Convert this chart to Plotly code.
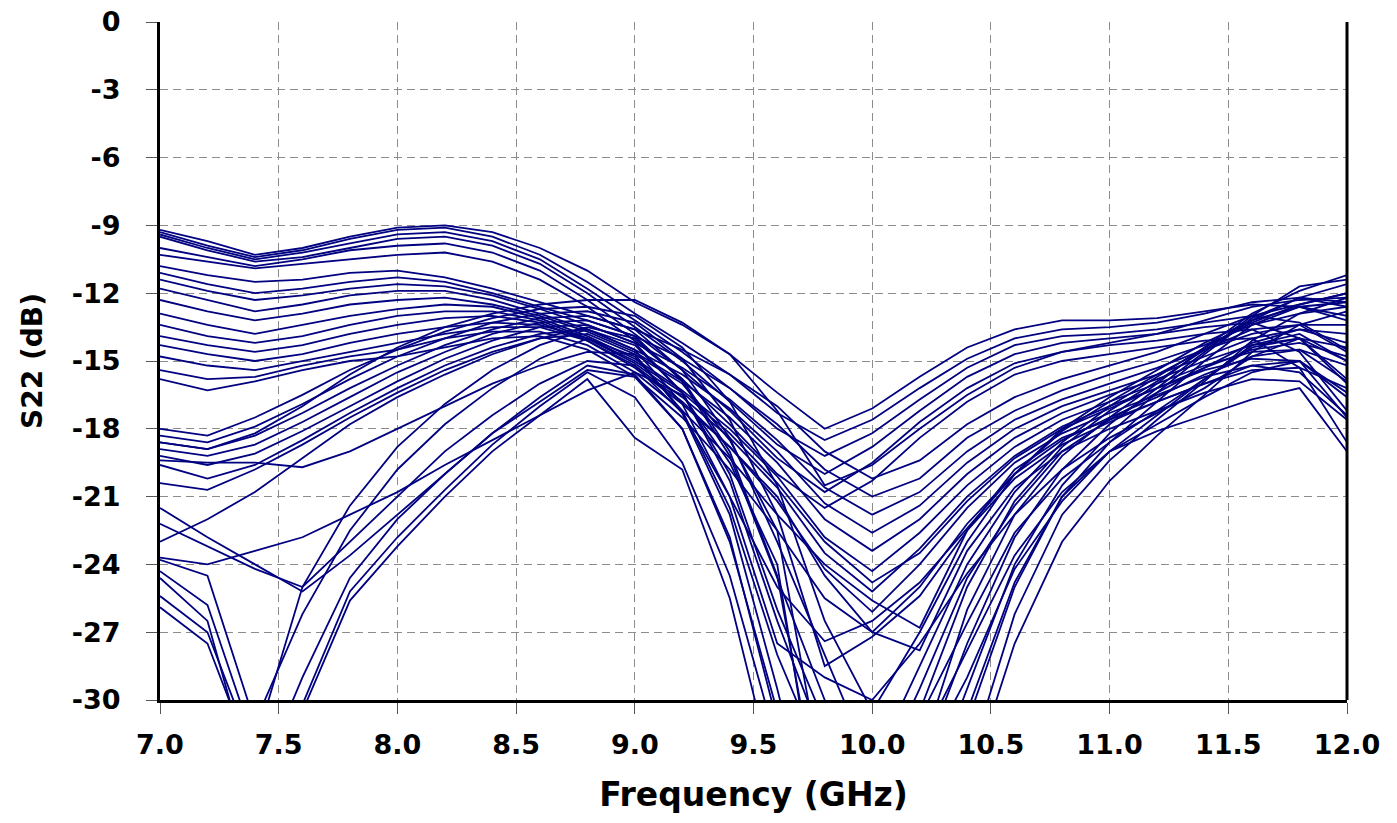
import plotly.graph_objects as go

freq = [7.0, 7.2, 7.4, 7.6, 7.8, 8.0, 8.2, 8.4, 8.6, 8.8, 9.0, 9.2, 9.4, 9.6,
        9.8, 10.0, 10.2, 10.4, 10.6, 10.8, 11.0, 11.2, 11.4, 11.6, 11.8, 12.0]

x_tick_vals = [7.0, 7.5, 8.0, 8.5, 9.0, 9.5, 10.0, 10.5, 11.0, 11.5, 12.0]
x_tick_text = ["7.0", "7.5", "8.0", "8.5", "9.0", "9.5", "10.0", "10.5", "11.0", "11.5", "12.0"]
y_tick_vals = [0, -3, -6, -9, -12, -15, -18, -21, -24, -27, -30]
y_tick_text = ["0", "-3", "-6", "-9", "-12", "-15", "-18", "-21", "-24", "-27", "-30"]

# top family
a1 = [-9.2, -9.7, -10.3, -10.0, -9.5, -9.1, -9.0, -9.3, -10.0, -11.0, -12.4, -13.4, -14.7, -16.4, -18.0, -17.1, -15.7, -14.4, -13.6, -13.2, -13.2, -13.1, -12.8, -12.5, -12.6, -13.0]
a2 = [-9.3, -9.9, -10.4, -10.1, -9.6, -9.2, -9.1, -9.5, -10.3, -11.5, -12.9, -14.2, -15.6, -17.3, -18.5, -17.6, -16.2, -14.9, -14.0, -13.6, -13.5, -13.3, -12.9, -12.4, -12.2, -12.4]
a3 = [-9.4, -10.0, -10.5, -10.2, -9.8, -9.4, -9.3, -9.7, -10.5, -11.8, -13.2, -14.6, -16.2, -18.0, -19.2, -18.2, -16.7, -15.3, -14.3, -13.9, -13.8, -13.6, -13.3, -13.0, -13.3, -14.5]
a4 = [-9.5, -10.1, -10.6, -10.4, -10.0, -9.6, -9.5, -9.9, -10.7, -12.0, -13.5, -15.0, -16.8, -18.7, -20.0, -18.8, -17.2, -15.7, -14.7, -14.2, -14.0, -13.8, -13.5, -13.3, -14.0, -15.8]
a5 = [-10.0, -10.4, -10.8, -10.5, -10.1, -9.9, -9.8, -10.2, -11.0, -12.3, -13.8, -15.4, -17.2, -19.3, -20.8, -19.5, -17.7, -16.2, -15.1, -14.6, -14.3, -14.1, -13.8, -13.6, -14.6, -17.2]
a6 = [-10.3, -10.6, -10.9, -10.7, -10.5, -10.3, -10.2, -10.6, -11.4, -12.6, -14.1, -15.8, -17.8, -20.0, -21.5, -20.3, -18.4, -16.8, -15.6, -15.0, -14.7, -14.4, -14.1, -14.0, -15.3, -18.6]

# middle family
b1 = [-10.8, -11.2, -11.5, -11.4, -11.1, -11.0, -11.3, -11.8, -12.4, -13.0, -13.6, -14.5, -15.6, -17.0, -19.0, -20.2, -19.4, -17.8, -16.6, -15.8, -15.2, -14.6, -13.8, -13.0, -12.5, -12.0]
b2 = [-11.1, -11.6, -12.0, -11.8, -11.5, -11.3, -11.5, -12.0, -12.6, -13.2, -13.9, -14.9, -16.2, -17.8, -19.8, -21.0, -20.2, -18.4, -17.2, -16.3, -15.6, -15.0, -14.3, -13.4, -12.9, -12.6]
b3 = [-11.4, -11.9, -12.3, -12.1, -11.8, -11.6, -11.7, -12.1, -12.7, -13.4, -14.2, -15.3, -16.7, -18.5, -20.6, -21.8, -20.8, -19.0, -17.6, -16.7, -16.0, -15.3, -14.5, -13.8, -13.4, -13.4]
b4 = [-11.8, -12.3, -12.8, -12.5, -12.1, -11.9, -11.9, -12.3, -12.9, -13.6, -14.5, -15.6, -17.1, -19.0, -21.3, -22.6, -21.4, -19.5, -18.0, -17.0, -16.3, -15.6, -14.8, -14.0, -13.6, -14.2]
b5 = [-12.3, -12.8, -13.2, -12.9, -12.5, -12.3, -12.2, -12.5, -13.0, -13.7, -14.6, -15.9, -17.5, -19.5, -22.0, -23.4, -22.0, -20.0, -18.4, -17.3, -16.5, -15.8, -15.0, -14.3, -14.0, -15.0]
b6 = [-12.9, -13.4, -13.8, -13.4, -13.0, -12.7, -12.5, -12.6, -13.1, -13.9, -14.9, -16.3, -18.0, -20.1, -22.8, -24.3, -22.6, -20.5, -18.8, -17.6, -16.8, -16.0, -15.2, -14.6, -14.5, -15.9]
b7 = [-13.4, -13.9, -14.2, -13.9, -13.4, -13.0, -12.8, -12.8, -13.2, -14.0, -15.1, -16.6, -18.4, -20.6, -23.5, -25.2, -23.3, -21.0, -19.2, -17.9, -17.0, -16.2, -15.4, -14.9, -15.0, -16.6]
b8 = [-13.9, -14.3, -14.6, -14.3, -13.8, -13.4, -13.1, -13.0, -13.3, -14.1, -15.3, -16.9, -18.8, -21.2, -24.2, -26.1, -24.0, -21.5, -19.5, -18.2, -17.3, -16.5, -15.7, -15.2, -15.5, -17.4]
b9 = [-14.3, -14.7, -15.0, -14.7, -14.2, -13.8, -13.5, -13.3, -13.4, -14.0, -15.0, -16.4, -18.2, -20.4, -23.0, -24.8, -23.5, -21.2, -19.3, -18.0, -17.1, -16.2, -15.3, -14.5, -14.2, -14.8]
b10 = [-14.8, -15.2, -15.4, -15.0, -14.6, -14.2, -13.8, -13.5, -13.5, -14.1, -15.2, -16.8, -18.8, -21.0, -24.5, -27.0, -25.0, -22.2, -20.0, -18.5, -17.5, -16.6, -15.6, -14.8, -14.5, -15.2]
b11 = [-15.4, -15.8, -15.7, -15.2, -14.8, -14.5, -14.0, -13.7, -13.7, -14.3, -15.5, -17.2, -19.3, -21.8, -24.0, -25.6, -26.8, -22.5, -19.8, -18.4, -17.6, -16.8, -16.0, -15.4, -15.3, -16.2]
b12 = [-15.8, -16.3, -15.9, -15.4, -15.0, -14.8, -14.4, -14.0, -13.9, -14.5, -15.7, -17.5, -19.8, -22.5, -25.5, -27.0, -27.8, -23.4, -20.6, -19.0, -18.0, -17.2, -16.4, -15.8, -15.9, -17.6]

# rising-from-low family
c1 = [-18.0, -18.3, -17.5, -16.5, -15.4, -14.5, -13.7, -13.1, -12.7, -12.6, -13.0, -14.4, -16.8, -20.5, -26.5, -30.5, -27.0, -23.0, -20.0, -18.0, -16.6, -15.4, -14.2, -13.2, -12.6, -12.4]
c2 = [-18.3, -18.6, -17.9, -16.9, -15.8, -14.8, -14.0, -13.3, -12.9, -12.8, -13.3, -14.9, -17.6, -21.8, -28.5, -27.2, -25.4, -22.5, -20.2, -18.7, -17.7, -16.8, -16.0, -15.2, -15.0, -16.4]
c3 = [-18.6, -18.9, -18.3, -17.3, -16.2, -15.2, -14.3, -13.6, -13.1, -13.0, -13.6, -15.4, -18.4, -23.0, -28.0, -33.0, -28.5, -24.0, -20.8, -18.6, -17.0, -15.7, -14.4, -13.3, -12.5, -12.0]
c4 = [-18.9, -19.2, -18.7, -17.7, -16.6, -15.5, -14.6, -13.8, -13.3, -13.2, -13.9, -15.9, -19.2, -24.6, -30.0, -34.0, -29.5, -24.6, -21.4, -19.0, -17.6, -16.4, -15.3, -14.2, -13.6, -13.8]
c5 = [-19.2, -19.6, -19.1, -18.1, -17.0, -15.9, -14.9, -14.1, -13.5, -13.4, -14.2, -16.4, -20.0, -26.0, -31.0, -36.0, -30.5, -25.0, -21.2, -18.8, -17.2, -15.9, -14.5, -13.2, -12.2, -11.6]
c6 = [-19.6, -20.2, -19.6, -18.5, -17.3, -16.2, -15.2, -14.4, -13.8, -13.6, -14.5, -16.9, -21.0, -27.5, -29.0, -30.0, -27.5, -24.4, -21.8, -19.8, -18.4, -17.3, -16.2, -14.8, -14.0, -14.4]
c7 = [-20.4, -20.7, -19.8, -18.7, -17.5, -16.4, -15.4, -14.6, -14.0, -13.8, -14.7, -17.3, -21.0, -25.0, -27.4, -26.5, -24.8, -22.4, -20.0, -18.1, -16.8, -15.6, -14.5, -13.6, -13.4, -14.6]

# crossing low family
d1 = [-25.9, -27.5, -33.0, -30.5, -25.6, -23.2, -21.0, -19.0, -17.4, -15.8, -18.4, -19.8, -25.5, -34.0, -38.0, -38.0, -35.0, -29.5, -24.0, -20.5, -18.2, -16.4, -14.7, -13.1, -12.2, -12.6]
d2 = [-25.4, -27.0, -32.5, -30.2, -25.2, -22.8, -20.7, -18.7, -17.0, -15.5, -16.6, -19.5, -24.5, -32.0, -38.0, -38.0, -36.0, -31.0, -25.0, -21.0, -18.6, -16.8, -15.0, -13.4, -12.6, -13.2]
d3 = [-24.6, -26.5, -34.0, -29.0, -24.6, -22.0, -20.0, -18.2, -16.6, -15.2, -15.6, -18.0, -23.0, -30.5, -35.0, -37.0, -33.0, -27.5, -22.8, -19.8, -17.8, -16.2, -14.6, -13.0, -11.7, -11.4]
d4 = [-23.8, -24.5, -31.0, -26.2, -22.5, -19.8, -17.8, -16.2, -14.9, -14.0, -14.8, -17.2, -21.5, -28.0, -33.0, -38.0, -32.5, -26.0, -21.8, -19.2, -17.5, -16.0, -14.4, -12.9, -11.9, -11.2]
d5 = [-24.3, -25.8, -32.0, -25.0, -21.4, -18.8, -16.9, -15.4, -14.3, -13.6, -14.3, -16.4, -20.3, -26.5, -32.0, -34.0, -30.8, -26.6, -22.6, -20.2, -18.6, -17.2, -15.8, -14.4, -14.0, -16.0]
d6 = [-23.0, -22.0, -20.8, -19.3, -17.8, -16.6, -15.6, -14.7, -14.0, -13.5, -14.0, -15.8, -19.0, -24.5, -36.0, -36.0, -33.0, -29.0, -24.2, -21.2, -19.0, -17.4, -15.8, -14.3, -13.8, -15.0]
d7 = [-21.5, -22.8, -24.0, -25.2, -23.6, -21.8, -20.0, -18.2, -16.8, -15.4, -15.7, -18.0, -22.8, -31.0, -38.0, -38.0, -38.0, -33.0, -26.2, -21.8, -19.4, -17.6, -15.9, -14.1, -12.9, -12.2]
d8 = [-22.2, -23.2, -24.2, -25.0, -23.0, -21.0, -19.0, -17.4, -16.0, -15.0, -15.2, -17.3, -21.8, -29.5, -38.0, -38.0, -38.0, -34.0, -27.5, -23.0, -20.3, -18.3, -16.5, -14.6, -13.4, -12.8]

# flat-start family
e1 = [-19.4, -19.5, -19.5, -19.7, -19.0, -18.0, -17.0, -16.0, -15.2, -14.6, -14.7, -16.0, -18.5, -22.5, -34.0, -36.0, -32.0, -27.8, -23.6, -20.8, -19.0, -17.8, -16.6, -15.5, -15.0, -17.5]
e2 = [-23.7, -24.0, -23.4, -22.8, -21.8, -20.8, -19.6, -18.5, -17.4, -16.3, -15.5, -16.5, -19.5, -24.0, -37.0, -38.0, -36.0, -30.5, -24.8, -21.0, -19.0, -18.1, -17.4, -16.7, -16.2, -19.0]
p1 = [-18.6, -18.9, -18.2, -17.0, -15.6, -14.4, -13.5, -12.9, -12.5, -12.3, -12.3, -13.3, -14.7, -17.2, -20.5, -19.6, -18.0, -16.5, -15.3, -14.6, -14.2, -13.8, -13.2, -12.6, -12.3, -12.2]

curves = [a1, a2, a3, a4, a5, a6,
          b1, b2, b3, b4, b5, b6, b7, b8, b9, b10, b11, b12,
          c1, c2, c3, c4, c5, c6, c7,
          d1, d2, d3, d4, d5, d6, d7, d8,
          e1, e2, p1]

fig = go.Figure()
for s in curves:
    fig.add_trace(go.Scatter(x=freq, y=s, mode="lines",
                             line=dict(color="#000080", width=1.8),
                             hoverinfo="skip", showlegend=False))

font_family = "DejaVu Sans"
fig.update_layout(
    width=1397, height=823,
    margin=dict(l=160, r=50, t=22, b=123),
    paper_bgcolor="white", plot_bgcolor="white",
    showlegend=False,
    xaxis=dict(
        range=[7, 12], tickvals=x_tick_vals, ticktext=x_tick_text,
        automargin=False,
        showgrid=True, gridcolor="#8c8c8c", gridwidth=1, griddash="8px,5px",
        zeroline=False, showline=True, linecolor="black", linewidth=3,
        ticks="outside", ticklen=11, tickcolor="#555555", tickwidth=1,
        ticklabelstandoff=8,
        tickfont=dict(family=font_family, size=27, color="black", weight="bold"),
        title=dict(text="Frequency (GHz)", standoff=24,
                   font=dict(family=font_family, size=33, color="black", weight="bold")),
    ),
    yaxis=dict(
        range=[-30, 0], tickvals=y_tick_vals, ticktext=y_tick_text,
        automargin=False,
        showgrid=True, gridcolor="#8c8c8c", gridwidth=1, griddash="8px,5px",
        zeroline=False, showline=True, linecolor="black", linewidth=3,
        ticks="outside", ticklen=11, tickcolor="#555555", tickwidth=1,
        ticklabelstandoff=20,
        tickfont=dict(family=font_family, size=27, color="black", weight="bold"),
        title=dict(text="S22 (dB)", standoff=22,
                   font=dict(family=font_family, size=28, color="black", weight="bold")),
    ),
    shapes=[dict(type="line", xref="paper", yref="paper", x0=1, x1=1, y0=0, y1=1,
                 line=dict(color="black", width=3))],
)

fig.write_html("out.html", config={"displayModeBar": False},
               post_script="document.body.style.margin='0';")
